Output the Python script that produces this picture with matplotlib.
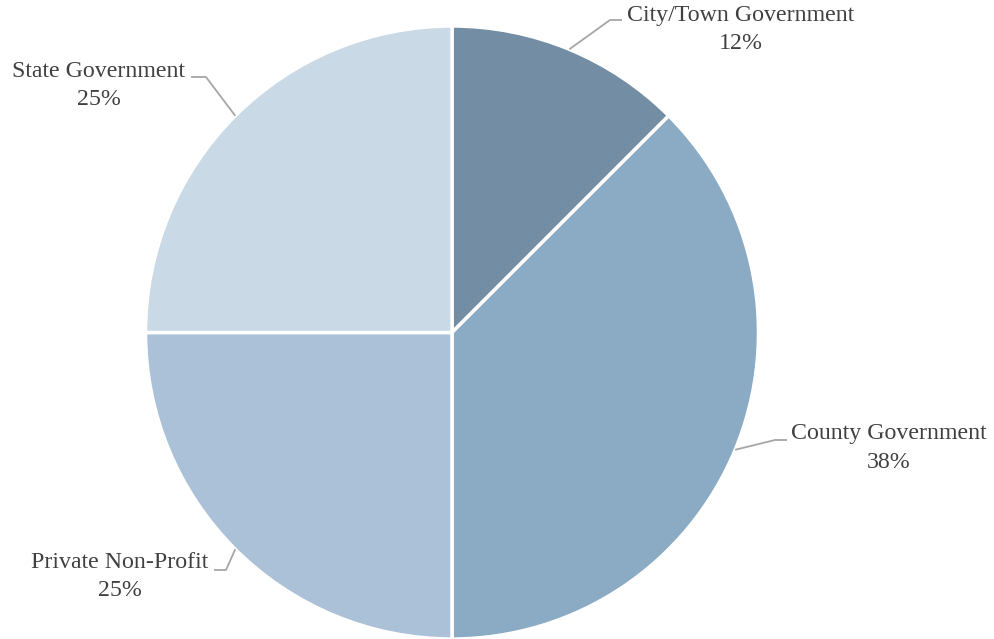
import numpy as np
import matplotlib.pyplot as plt

# Share of funding by organisation type
categorias = ['City/Town Government', 'County Government', 'Private Non-Profit', 'State Government']
percentuais = [12.5, 37.5, 25, 25]
rotulos_pct = ['12%', '38%', '25%', '25%']
cores = ['#738da4', '#8baac3', '#abc1d8', '#c9d9e6']

plt.rcParams['font.family'] = ['Liberation Serif', 'DejaVu Serif']

W, H = 995, 639
cx, cy, R = 452, 332.5, 306.5

def px(x, y):
    # pixel (top-left origin) -> data coords of the pie (radius 1)
    return (x - cx) / R, (cy - y) / R

fig = plt.figure(figsize=(W / 100, H / 100), dpi=100)
ax = fig.add_axes([0, 0, 1, 1])

wedges, _ = ax.pie(percentuais, colors=cores, startangle=90, counterclock=False,
                   radius=1, wedgeprops=dict(edgecolor='white', linewidth=2.5))

ax.set_xlim(px(0, 0)[0], px(W, 0)[0])
ax.set_ylim(px(0, H)[1], px(0, 0)[1])
ax.set_aspect('equal', adjustable='box')
ax.axis('off')

# posicao do texto (centro da 1a linha) e cotovelo da linha guia, em pixels
texto_pos = [(741, 15), (889, 434), (120, 563), (99, 71)]
cotovelo = [((610, 20), (622, 20)), ((775, 440), (787, 440)),
            ((226, 570), (214, 570)), ((206, 77), (191, 77))]

for w, nome, pct, tp, (c1, c2) in zip(wedges, categorias, rotulos_pct, texto_pos, cotovelo):
    ang = np.deg2rad((w.theta1 + w.theta2) / 2)
    x0, y0 = np.cos(ang), np.sin(ang)
    xs = [x0, px(*c1)[0], px(*c2)[0]]
    ys = [y0, px(*c1)[1], px(*c2)[1]]
    ax.plot(xs, ys, color='#a6a6a6', lw=1.3, solid_capstyle='butt')
    tx, ty = px(*tp)
    ax.text(tx, ty, nome, ha='center', va='center', fontsize=17.2, color='#404040')
    tx2, ty2 = px(tp[0], tp[1] + 28)
    ax.text(tx2, ty2, pct, ha='center', va='center', fontsize=17.2, color='#404040')

fig.savefig('out.png', dpi=100)
